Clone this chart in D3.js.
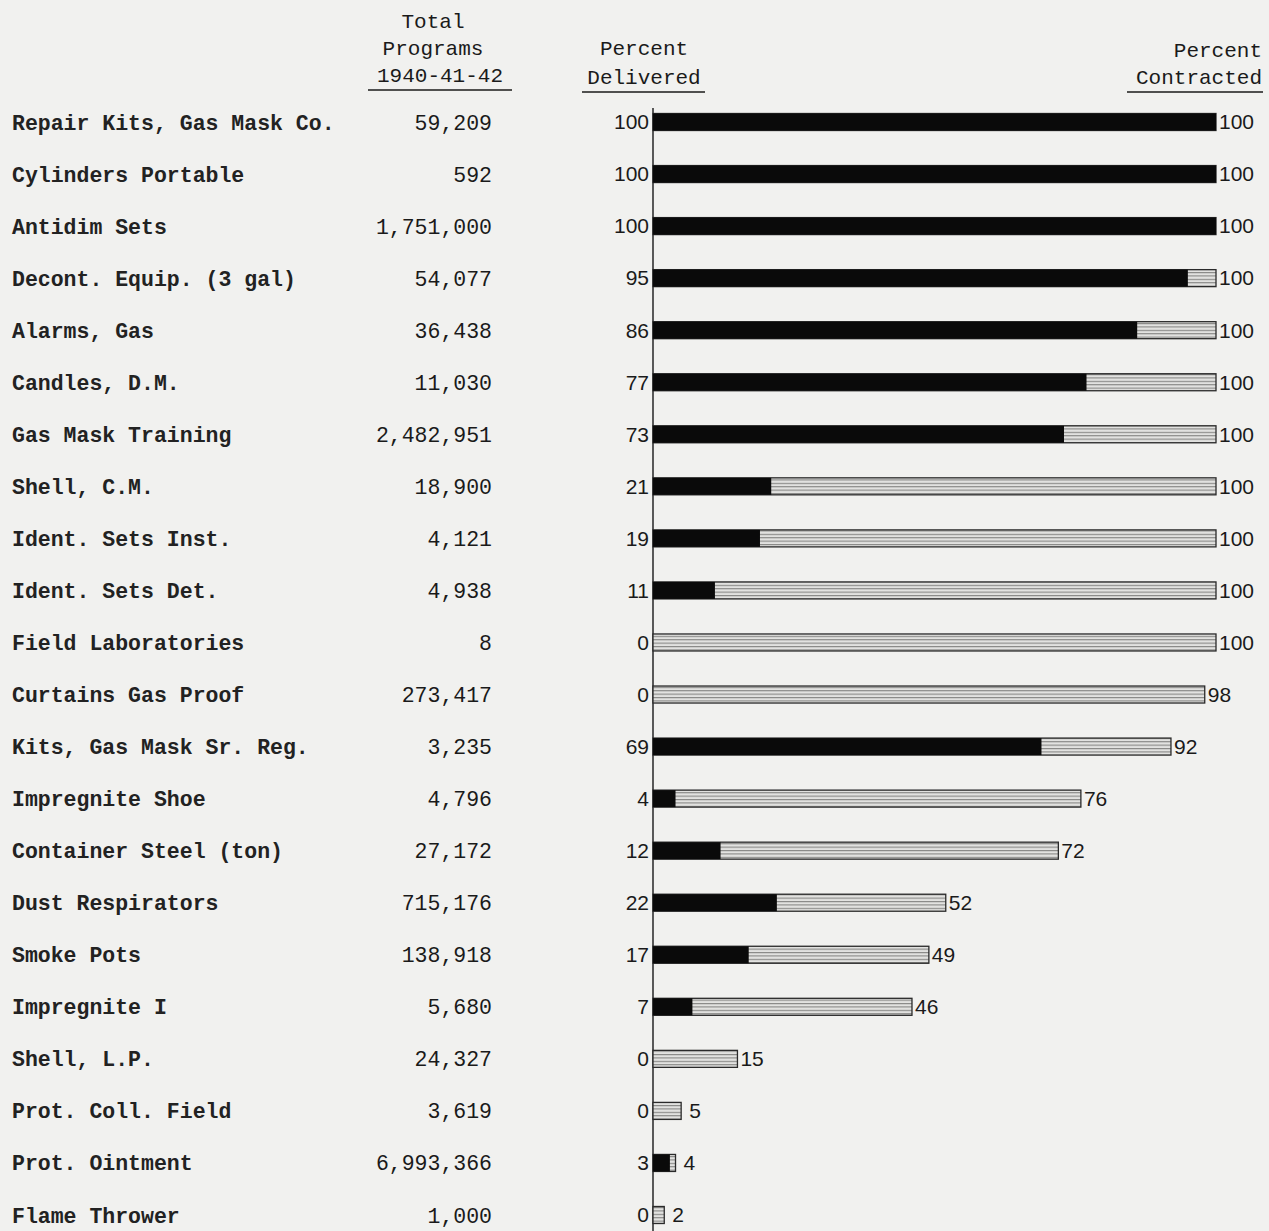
<!DOCTYPE html>
<html><head><meta charset="utf-8">
<script src="https://cdn.jsdelivr.net/npm/d3@7"></script>
<style>body{margin:0;background:#f1f1ef;} svg{display:block;}</style>
</head><body>
<script>
const categories = ["Repair Kits, Gas Mask Co.","Cylinders Portable","Antidim Sets","Decont. Equip. (3 gal)","Alarms, Gas","Candles, D.M.","Gas Mask Training","Shell, C.M.","Ident. Sets Inst.","Ident. Sets Det.","Field Laboratories","Curtains Gas Proof","Kits, Gas Mask Sr. Reg.","Impregnite Shoe","Container Steel (ton)","Dust Respirators","Smoke Pots","Impregnite I","Shell, L.P.","Prot. Coll. Field","Prot. Ointment","Flame Thrower"];
const totalPrograms = ["59,209","592","1,751,000","54,077","36,438","11,030","2,482,951","18,900","4,121","4,938","8","273,417","3,235","4,796","27,172","715,176","138,918","5,680","24,327","3,619","6,993,366","1,000"];
const percentDelivered = [100,100,100,95,86,77,73,21,19,11,0,0,69,4,12,22,17,7,0,0,3,0];
const percentContracted = [100,100,100,100,100,100,100,100,100,100,100,98,92,76,72,52,49,46,15,5,4,2];

const W = 1269, H = 1231;
const svg = d3.select("body").append("svg").attr("width", W).attr("height", H);
svg.append("rect").attr("width", W).attr("height", H).attr("fill", "#f1f1ef");

const defs = svg.append("defs");
const pat = defs.append("pattern").attr("id","hatch").attr("patternUnits","userSpaceOnUse")
  .attr("width",8).attr("height",3.4);
pat.append("rect").attr("width",8).attr("height",3.4).attr("fill","#e2e2e0");
pat.append("rect").attr("y",0).attr("width",8).attr("height",1.1).attr("fill","#858583");

const x = d3.scaleLinear().domain([0,100]).range([653,1216]);
const y = d3.scalePoint().domain(categories).range([122,1215]);
const bh = 17;
const font = "'Liberation Mono', 'Courier New', monospace";
const numFont = "'Liberation Sans', Arial, sans-serif";
const ink = "#1a1a1a";

// headers
const hdr = svg.append("g").attr("font-family", font).attr("font-size", 21).attr("fill", ink);
hdr.append("text").attr("x",433).attr("y",28).attr("text-anchor","middle").text("Total");
hdr.append("text").attr("x",433).attr("y",55).attr("text-anchor","middle").text("Programs");
hdr.append("text").attr("x",440).attr("y",82).attr("text-anchor","middle").text("1940-41-42");
hdr.append("text").attr("x",644).attr("y",55).attr("text-anchor","middle").text("Percent");
hdr.append("text").attr("x",644).attr("y",84).attr("text-anchor","middle").text("Delivered");
hdr.append("text").attr("x",1262).attr("y",57).attr("text-anchor","end").text("Percent");
hdr.append("text").attr("x",1262).attr("y",84).attr("text-anchor","end").text("Contracted");
[[368,512,90],[582,705,92],[1127,1263,92]].forEach(([a,b,yy])=>{
  svg.append("line").attr("x1",a).attr("x2",b).attr("y1",yy).attr("y2",yy).attr("stroke",ink).attr("stroke-width",1.6);
});

// row labels
svg.append("g").selectAll("text").data(categories).join("text")
  .attr("x",12).attr("y",d=>y(d)).attr("dy","0.35em")
  .attr("font-family",font).attr("font-size",21.5).attr("font-weight","bold").attr("fill","#222")
  .text(d=>d);

// total programs
svg.append("g").selectAll("text").data(categories).join("text")
  .attr("x",492).attr("y",d=>y(d)).attr("dy","0.35em").attr("text-anchor","end")
  .attr("font-family",font).attr("font-size",21.5).attr("fill",ink)
  .text((d,i)=>totalPrograms[i]);

// axis line
svg.append("line").attr("x1",x(0)).attr("x2",x(0)).attr("y1",108).attr("y2",H)
  .attr("stroke","#333").attr("stroke-width",1.6);

// contracted (hatched) bars
svg.append("g").selectAll("rect").data(categories).join("rect")
  .attr("x",x(0)).attr("y",d=>y(d)-bh/2)
  .attr("width",(d,i)=>x(percentContracted[i])-x(0)).attr("height",bh)
  .attr("fill","url(#hatch)").attr("stroke","#2a2a2a").attr("stroke-width",1.3);

// delivered (black) bars
svg.append("g").selectAll("rect").data(categories).join("rect")
  .attr("x",x(0)).attr("y",d=>y(d)-bh/2)
  .attr("width",(d,i)=>x(percentDelivered[i])-x(0)).attr("height",bh)
  .attr("fill","#0a0a0a");

// delivered labels
svg.append("g").selectAll("text").data(categories).join("text")
  .attr("x",649).attr("y",d=>y(d)).attr("dy","0.35em").attr("text-anchor","end")
  .attr("font-family",numFont).attr("font-size",21).attr("fill",ink)
  .text((d,i)=>percentDelivered[i]);

// contracted labels
svg.append("g").selectAll("text").data(categories).join("text")
  .attr("x",(d,i)=>x(percentContracted[i])+(percentContracted[i]<10?8:3)).attr("y",d=>y(d)).attr("dy","0.35em")
  .attr("font-family",numFont).attr("font-size",21).attr("fill",ink)
  .text((d,i)=>percentContracted[i]);
</script>
</body></html>
